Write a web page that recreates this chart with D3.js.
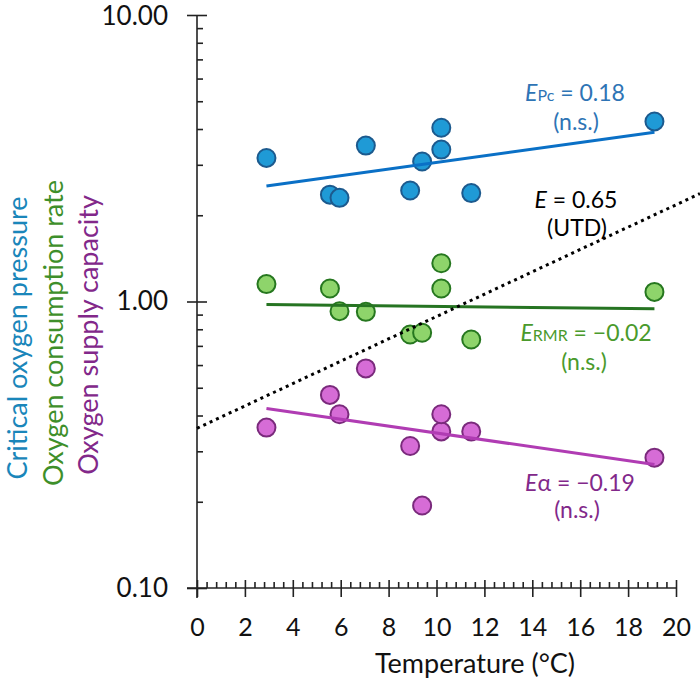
<!DOCTYPE html>
<html>
<head>
<meta charset="utf-8">
<script src="https://cdn.jsdelivr.net/npm/d3@7"></script>
<style>
  body { margin: 0; background: #fff; }
  svg { font-family: Lato, "Open Sans", sans-serif; }
</style>
</head>
<body>
<script>
// temperatures of the samples (°C)
const temps = [2.9, 5.55, 5.95, 7.05, 8.9, 9.4, 10.2, 10.2, 11.45, 19.1];
// critical oxygen pressure
const pcVals = [3.17, 2.36, 2.30, 3.50, 2.44, 3.08, 3.39, 4.04, 2.39, 4.25];
// oxygen consumption rate (RMR)
const rmrVals = [1.15, 1.11, 0.925, 0.92, 0.767, 0.778, 1.11, 1.36, 0.737, 1.08];
// oxygen supply capacity (alpha)
const alphaVals = [0.363, 0.472, 0.404, 0.584, 0.313, 0.194, 0.352, 0.404, 0.352, 0.285];

// fitted trend lines, endpoints
const fitTemps = [2.9, 19.1];
const pcFit = [2.53, 3.90];
const rmrFit = [0.976, 0.943];
const alphaFit = [0.423, 0.270];
// UTD reference line (E = 0.65)
const utdTemps = [0, 21];
const utdVals = [0.361, 2.38];

const xTicks = [0, 2, 4, 6, 8, 10, 12, 14, 16, 18, 20];
const yTicks = [0.1, 1, 10];

const width = 700, height = 685;
const svg = d3.select('body').append('svg').attr('width', width).attr('height', height);

const x = d3.scaleLinear().domain([0, 20]).range([197, 676]);
const y = d3.scaleLog().domain([0.1, 10]).range([588, 15]);

// y axis
const yMinor = [];
[0.1, 1].forEach(d => { for (let k = 2; k <= 9; k++) yMinor.push(d * k); });

svg.append('g').attr('transform', `translate(${x(0)},0)`)
  .call(d3.axisRight(y).tickValues(yMinor).tickSize(6).tickFormat(''))
  .call(g => g.select('.domain').remove());
svg.append('g').attr('transform', `translate(${x(0)},0)`)
  .call(d3.axisRight(y).tickValues(yTicks).tickSize(10).tickFormat(''))
  .call(g => g.select('.domain').remove());
svg.append('g').attr('class', 'axis y').attr('transform', `translate(${x(0)},0)`)
  .call(d3.axisLeft(y).tickValues(yTicks).tickSize(10).tickPadding(19).tickFormat(d3.format('.2f')))
  .call(g => g.select('.domain').attr('d', `M0,${y(10)}V598`))
  .call(g => g.selectAll('text').attr('font-size', 26).attr('font-family', 'Lato').attr('fill', '#111')
    .attr('dy', d => d === 10 ? '0.38em' : '0.32em'));

// x axis
const xMinor = d3.range(0, 20.01, 0.4).filter(d => Math.abs(d / 2 - Math.round(d / 2)) > 0.01);
svg.append('g').attr('transform', `translate(0,${y(0.1)})`)
  .call(d3.axisTop(x).tickValues(xMinor).tickSize(6).tickFormat(''))
  .call(g => g.select('.domain').remove());
svg.append('g').attr('transform', `translate(0,${y(0.1)})`)
  .call(d3.axisTop(x).tickValues(xTicks).tickSize(8).tickFormat(''))
  .call(g => g.select('.domain').remove());
svg.append('g').attr('class', 'axis x').attr('transform', `translate(0,${y(0.1)})`)
  .call(d3.axisBottom(x).tickValues(xTicks).tickSize(9).tickPadding(21))
  .call(g => g.select('.domain').attr('d', `M187,0H${x(20)}`))
  .call(g => g.selectAll('text').attr('font-size', 25).attr('font-family', 'Lato').attr('fill', '#111'));

svg.selectAll('.tick line, .domain').attr('stroke', '#222').attr('stroke-width', 1.6);

svg.append('text').attr('x', 475).attr('y', 673)
  .attr('text-anchor', 'middle').attr('font-size', 27).attr('fill', '#111')
  .text('Temperature (°C)');

// y titles
const yTitles = [
  {text: 'Critical oxygen pressure', color: '#1a86ba', bx: 27, cy: 338},
  {text: 'Oxygen consumption rate', color: '#3e8f2a', bx: 63, cy: 333},
  {text: 'Oxygen supply capacity', color: '#82288a', bx: 98, cy: 335}
];
yTitles.forEach(t => {
  svg.append('text').attr('transform', `translate(${t.bx},${t.cy}) rotate(-90)`)
    .attr('text-anchor', 'middle').attr('font-size', 27).attr('fill', t.color).text(t.text);
});

const series = [
  {vals: pcVals, fit: pcFit, fill: '#1f9ad6', stroke: '#1c5a8e', line: '#0a70c6'},
  {vals: rmrVals, fit: rmrFit, fill: '#8ed46b', stroke: '#26771f', line: '#267422'},
  {vals: alphaVals, fit: alphaFit, fill: '#d66cd6', stroke: '#7a2a7c', line: '#b03cb3'}
];

series.forEach(s => {
  svg.append('g').selectAll('circle').data(temps).join('circle')
    .attr('cx', d => x(d)).attr('cy', (d, i) => y(s.vals[i])).attr('r', 9)
    .attr('fill', s.fill).attr('stroke', s.stroke).attr('stroke-width', 2);
});

const line = d3.line().x(d => x(d[0])).y(d => y(d[1]));
series.forEach(s => {
  svg.append('path').attr('d', line(d3.zip(fitTemps, s.fit)))
    .attr('fill', 'none').attr('stroke', s.line).attr('stroke-width', 3);
});
svg.append('path').attr('d', line(d3.zip(utdTemps, utdVals)))
  .attr('fill', 'none').attr('stroke', '#000').attr('stroke-width', 3)
  .attr('stroke-dasharray', '3 4');

// annotations
const notes = [
  {cx: 575, by: 101, color: '#2e74b5', sub: 'Pc', rest: ' = 0.18', second: '(n.s.)', cx2: 576, by2: 130},
  {cx: 576, by: 208, color: '#000', sub: '', rest: ' = 0.65', second: '(UTD)', cx2: 577, by2: 236},
  {cx: 586, by: 341, color: '#4a9a2c', sub: 'RMR', rest: ' = \u22120.02', second: '(n.s.)', cx2: 584, by2: 370},
  {cx: 580, by: 491, color: '#82288a', sub: '\u03b1', rest: ' = \u22120.19', second: '(n.s.)', cx2: 577, by2: 518}
];
notes.forEach(n => {
  const t = svg.append('text').attr('x', n.cx).attr('y', n.by).attr('text-anchor', 'middle')
    .attr('font-size', 23).attr('fill', n.color);
  t.append('tspan').attr('font-style', 'italic').text('E');
  if (n.sub) t.append('tspan').attr('font-size', n.sub === '\u03b1' ? 23 : 16).text(n.sub);
  t.append('tspan').text(n.rest);
  svg.append('text').attr('x', n.cx2).attr('y', n.by2).attr('text-anchor', 'middle')
    .attr('font-size', 23).attr('fill', n.color).text(n.second);
});
</script>
</body>
</html>
